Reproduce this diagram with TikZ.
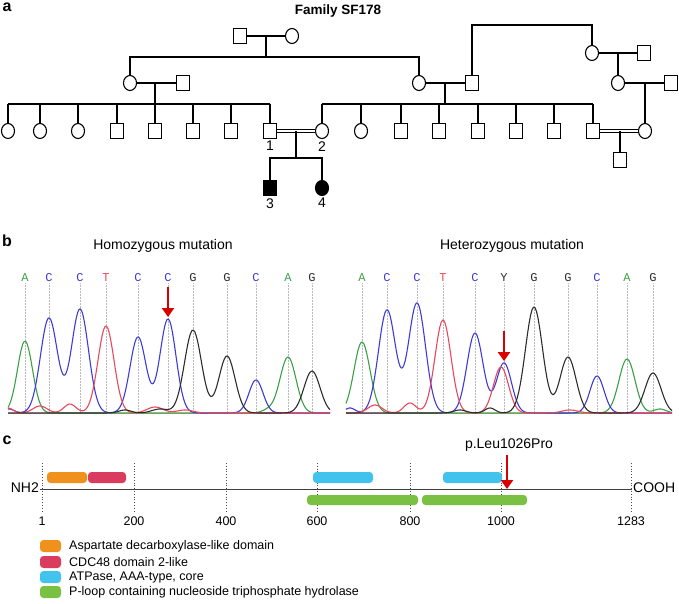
\documentclass[tikz,border=0pt]{standalone}
\usepackage{fontspec}
\setmainfont{Liberation Sans}
\newfontfamily\seqfont{Liberation Mono}
\usetikzlibrary{calc, positioning}
\usetikzlibrary{arrows.meta}
\usetikzlibrary{shapes.geometric}

\definecolor{trgreen}{RGB}{60,160,70}
\definecolor{trblue}{RGB}{60,60,215}
\definecolor{trred}{RGB}{232,72,92}
\definecolor{trblack}{RGB}{45,45,45}
\definecolor{domorange}{RGB}{240,145,30}
\definecolor{domred}{RGB}{218,60,95}
\definecolor{domblue}{RGB}{65,195,238}
\definecolor{domgreen}{RGB}{122,192,66}

\tikzset{
  male/.style={draw, rectangle, minimum width=13pt, minimum height=15pt, inner sep=0pt, line width=1.1pt},
  female/.style={draw, ellipse, minimum width=13pt, minimum height=15pt, inner sep=0pt, line width=1.1pt},
  affected/.style={fill=black},
  pedline/.style={line width=1.2pt},
  mating/.style={double, double distance=1.8pt, line width=0.9pt},
  idlabel/.style={font=\fontsize{14}{16}\selectfont, inner sep=2pt},
  panel/.style={font=\bfseries\fontsize{16}{18}\selectfont},
  ttl/.style={font=\fontsize{14}{16}\selectfont},
  base/.style={font=\seqfont\fontsize{12}{12}\selectfont, inner sep=1pt},
  guide/.style={gray!55, densely dotted, line width=0.5pt},
  trace/.style={line width=1.1pt, line join=round},
  mutarrow/.style={red!85!black, line width=2.6pt, -{Triangle[length=9pt,width=12pt]}},
  dombar/.style={rounded corners=3.5pt},
  aaguide/.style={dotted, line width=0.8pt, black!70},
  aalabel/.style={font=\fontsize{12.5}{14}\selectfont},
  legtext/.style={font=\fontsize{12.5}{14}\selectfont, anchor=west, inner sep=0pt},
}

\begin{document}
\begin{tikzpicture}[x=1pt,y=-1pt,
  declare function={pk(\q,\m,\a,\w)=\a*exp(-min(0.5*((\q-\m)/\w)^2,9));}]
\useasboundingbox (0,0) rectangle (679,603);

% ---------- a: pedigree ----------
\node[panel] (pa) at (7,7) {a};
\node[panel, font=\bfseries\fontsize{13.5}{16}\selectfont] (fam) at (338,11) {Family SF178};

\coordinate (topline) at (0,25);
\coordinate (sib1) at (0,57);
\coordinate (sibL) at (0,104);
\coordinate (sib3) at (0,158);

% generation I
\node[male] (g1m) at (240,36) {};
\node[female] (g1f) at (292,36) {};
\draw[pedline] (g1m) -- (g1f);
\coordinate (g1c) at (266,36);
\draw[pedline] (g1c) -- (g1c |- sib1);

% generation II
\node[female] (g2f1) at (130,83) {};
\node[male] (g2m1) at (183,83) {};
\node[female] (g2f2) at (419,83) {};
\node[male] (g2m2) at (472,83) {};
\draw[pedline] (g2f1.north) -- (g2f1.north |- sib1) -- (g2f2.north |- sib1) -- (g2f2.north);
\draw[pedline] (g2f1) -- (g2m1);
\draw[pedline] (g2f2) -- (g2m2);
\coordinate (g2c1) at (155,83);
\coordinate (g2c2) at (445,83);
\draw[pedline] (g2c1) -- (g2c1 |- sibL);
\draw[pedline] (g2c2) -- (g2c2 |- sibL);

% right branch
\node[female] (rf1) at (592,53) {};
\node[male] (rm1) at (644,53) {};
\node[female] (rf2) at (618,83) {};
\node[male] (rm2) at (671,83) {};
\draw[pedline] (g2m2.north) -- (g2m2.north |- topline) -- (rf1.north |- topline) -- (rf1.north);
\draw[pedline] (rf1) -- (rm1);
\draw[pedline] (rf2) -- (rm2);
\coordinate (rc1) at (618,53);
\draw[pedline] (rc1) -- (rf2.north);
\coordinate (rc2) at (645,83);

% generation III
\foreach \x/\sx [count=\i] in {8/female,40/female,78/female,117/male,155/male,193/male,231/male,270/male} {
  \node[\sx] (l\i) at (\x,131) {};
  \draw[pedline] (l\i.north) -- (l\i.north |- sibL);
}
\draw[pedline] (l1.north |- sibL) -- (l8.north |- sibL);
\foreach \x/\sx [count=\i] in {322/female,361/female,401/male,439/male,478/male,516/male,554/male,593/male} {
  \node[\sx] (r\i) at (\x,131) {};
  \draw[pedline] (r\i.north) -- (r\i.north |- sibL);
}
\draw[pedline] (r1.north |- sibL) -- (r8.north |- sibL);
\node[female] (rf3) at (645,131) {};
\draw[pedline] (rc2) -- (rf3.north);

\draw[mating] (l8) -- (r1);
\draw[mating] (r8) -- (rf3);
\node[idlabel, below=0pt of l8] (n1) {1};
\node[idlabel, below=0pt of r1] (n2) {2};

% generation IV
\coordinate (c1) at (296,131);
\draw[pedline] (c1) -- (c1 |- sib3);
\node[male, affected] (p3) at (270,188) {};
\node[female, affected] (p4) at (322,188) {};
\draw[pedline] (p3.north) -- (p3.north |- sib3) -- (p4.north |- sib3) -- (p4.north);
\node[idlabel, below=0pt of p3] (n3) {3};
\node[idlabel, below=0pt of p4] (n4) {4};
\coordinate (c2) at (620,131);
\node[male] (rc) at (620,160) {};
\draw[pedline] (c2) -- (rc.north);

% ---------- b: chromatograms ----------
\node[panel] (pb) at (7,241) {b};
\node[ttl] (homo) at (163,246) {Homozygous mutation};
\node[ttl] (hetero) at (512,246) {Heterozygous mutation};
\coordinate (bl) at (0,413);

\foreach \x/\b/\c [count=\i] in {25/A/trgreen,49/C/trblue,80/C/trblue,106/T/trred,138/C/trblue,168/C/trblue,193/G/trblack,227/G/trblack,256/C/trblue,288/A/trgreen,312/G/trblack} {
  \node[base, text=\c] (hl\i) at (\x,278) {\b};
  \draw[guide] (hl\i.south) -- (hl\i.south |- bl);
}
\foreach \x/\b/\c [count=\i] in {362/A/trgreen,387/C/trblue,417/C/trblue,443/T/trred,475/C/trblue,504/Y/trblack,534/G/trblack,568/G/trblack,597/C/trblue,627/A/trgreen,653/G/trblack} {
  \node[base, text=\c] (tl\i) at (\x,278) {\b};
  \draw[guide] (tl\i.south) -- (tl\i.south |- bl);
}

% homozygous traces
\draw[trred!60, line width=0.8pt] (8,413) -- (330,413);
\draw[trace, trgreen] plot[domain=8:330, samples=220] (\x, {413 - pk(\x,25,72,7.5) - pk(\x,288,56,8) - pk(\x,268,3,6)});
\draw[trace, trblue] plot[domain=8:330, samples=260] (\x, {413 - pk(\x,49,95,8.5) - pk(\x,80,104,8.5) - pk(\x,138,76,8) - pk(\x,168,94,8) - pk(\x,256,33,7) - pk(\x,9,4,5)});
\draw[trace, trred] plot[domain=8:330, samples=220] (\x, {413 - pk(\x,106,87,8) - pk(\x,40,7,7) - pk(\x,70,9,6) - pk(\x,155,6,8) - pk(\x,185,3,8) - pk(\x,8,5,5)});
\draw[trace, trblack] plot[domain=8:330, samples=220] (\x, {413 - pk(\x,193,83,8.5) - pk(\x,227,57,8) - pk(\x,312,42,8) - pk(\x,125,3,6) - pk(\x,160,4,8)});

% heterozygous traces
\draw[trred!60, line width=0.8pt] (346,413) -- (672,413);
\draw[trace, trgreen] plot[domain=346:672, samples=220] (\x, {413 - pk(\x,362,71,8) - pk(\x,627,54,8) - pk(\x,660,4,6)});
\draw[trace, trblue] plot[domain=346:672, samples=260] (\x, {413 - pk(\x,387,103,8.5) - pk(\x,417,110,8.5) - pk(\x,475,80,8) - pk(\x,504,50,7.5) - pk(\x,597,37,7) - pk(\x,350,5,5)});
\draw[trace, trred] plot[domain=346:672, samples=220] (\x, {413 - pk(\x,443,93,8) - pk(\x,501,46,7.5) - pk(\x,375,8,7) - pk(\x,410,10,6) - pk(\x,570,3,8)});
\draw[trace, trblack] plot[domain=346:672, samples=220] (\x, {413 - pk(\x,534,106,8.5) - pk(\x,568,56,8) - pk(\x,653,40,8) - pk(\x,490,5,5) - pk(\x,460,3,6)});

\coordinate (m1a) at (168,287);
\coordinate (m1b) at (168,317);
\coordinate (m2a) at (504,331);
\coordinate (m2b) at (504,361);
\draw[mutarrow] (m1a) -- (m1b);
\draw[mutarrow] (m2a) -- (m2b);

% ---------- c: protein ----------
\node[panel] (pc) at (7,440) {c};
\node[ttl, anchor=east, inner sep=1pt] (nh) at (40,488) {NH2};
\node[ttl, anchor=west, inner sep=1pt] (co) at (632,488) {COOH};
\coordinate (axy) at (0,489);
\draw[line width=1pt, black!75] (nh.east |- axy) -- (co.west |- axy);

\foreach \x/\t [count=\i] in {42/1,134/200,226/400,317/600,410/800,501/1000,631/1283} {
  \draw[aaguide] (\x,463) -- (\x,512);
  \node[aalabel] (aa\i) at (\x,521) {\t};
}

\fill[domorange, dombar] (47,472) rectangle (87,483);
\fill[domred, dombar] (88,472) rectangle (126,483);
\fill[domblue, dombar] (313,472) rectangle (373,483);
\fill[domblue, dombar] (443,472) rectangle (502,483);
\fill[domgreen, dombar] (307,495) rectangle (418,505);
\fill[domgreen, dombar] (422,495) rectangle (527,505);

\node[ttl] (mut) at (509,445) {p.Leu1026Pro};
\coordinate (mtip) at (507,489);
\draw[mutarrow] (mtip |- mut.south) -- (mtip);

% legend
\fill[domorange, dombar] (40,540) rectangle (61,552);
\node[legtext] (lg1) at (69,546) {Aspartate decarboxylase-like domain};
\fill[domred, dombar] (40,556) rectangle (61,568);
\node[legtext] (lg2) at (69,562) {CDC48 domain 2-like};
\fill[domblue, dombar] (40,571) rectangle (61,583);
\node[legtext] (lg3) at (69,577) {ATPase, AAA-type, core};
\fill[domgreen, dombar] (40,586) rectangle (61,598);
\node[legtext] (lg4) at (69,592) {P-loop containing nucleoside triphosphate hydrolase};
\end{tikzpicture}
\end{document}
